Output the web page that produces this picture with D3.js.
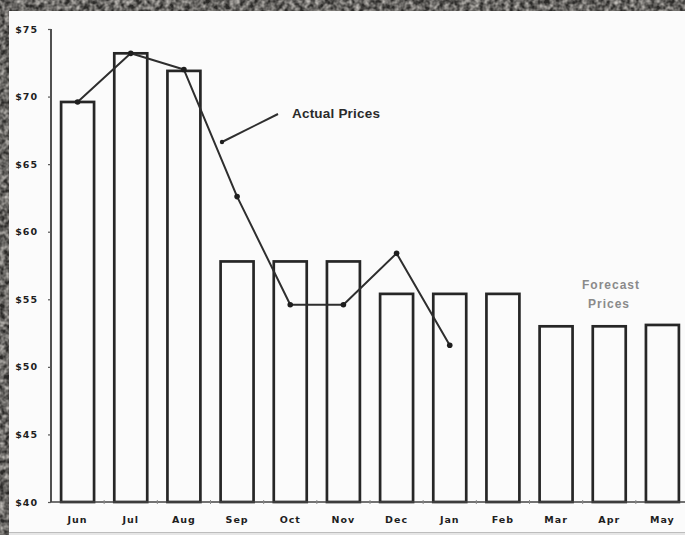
<!DOCTYPE html>
<html>
<head>
<meta charset="utf-8">
<script src="https://cdn.jsdelivr.net/npm/d3@7"></script>
<style>
  html, body { margin: 0; padding: 0; background: #ffffff; }
  svg { display: block; }
  text { font-family: "Liberation Sans", Arial, sans-serif; }
</style>
</head>
<body>
<svg id="chart" width="685" height="535"></svg>
<script>
// Monthly price data
const months = ["Jun", "Jul", "Aug", "Sep", "Oct", "Nov", "Dec", "Jan", "Feb", "Mar", "Apr", "May"];
const barPrices = [69.6, 73.2, 71.9, 57.8, 57.8, 57.8, 55.4, 55.4, 55.4, 53.0, 53.0, 53.1];
const actualMonths = ["Jun", "Jul", "Aug", "Sep", "Oct", "Nov", "Dec", "Jan"];
const actualPrices = [69.6, 73.2, 72.0, 62.6, 54.6, 54.6, 58.4, 51.6];
const yTicks = [40, 45, 50, 55, 60, 65, 70, 75];
const yTickLabels = ["$40", "$45", "$50", "$55", "$60", "$65", "$70", "$75"];

const W = 685, H = 535;
const svg = d3.select("#chart");
const defs = svg.append("defs");

// Mottled dark frame around the sheet
const grain = defs.append("filter").attr("id", "grain")
  .attr("x", 0).attr("y", 0).attr("width", "100%").attr("height", "100%");
grain.append("feTurbulence").attr("type", "fractalNoise")
  .attr("baseFrequency", 0.2).attr("numOctaves", 2).attr("seed", 7).attr("result", "noise");
grain.append("feColorMatrix").attr("in", "noise").attr("type", "matrix")
  .attr("values", "0 0 0 0 0.55  0 0 0 0 0.53  0 0 0 0 0.50  0 0 0 -1.6 1.2").attr("result", "speck");
grain.append("feComposite").attr("in", "speck").attr("in2", "SourceGraphic").attr("operator", "in");

svg.append("rect").attr("width", W).attr("height", H).attr("fill", "#2b2a28");
svg.append("rect").attr("width", W).attr("height", H).attr("fill", "#000").attr("filter", "url(#grain)");

// Paper sheet
svg.append("rect").attr("x", 9).attr("y", 11).attr("width", W - 9).attr("height", 521).attr("fill", "#fbfbfb");
svg.append("line").attr("x1", 9).attr("x2", W).attr("y1", 532.5).attr("y2", 532.5)
  .attr("stroke", "#bdbdbd").attr("stroke-width", 1);
svg.append("rect").attr("x", 9).attr("y", 533).attr("width", W - 9).attr("height", 2).attr("fill", "#e6e6e6");

// Scales
const x = d3.scaleBand().domain(months).range([51, 689]).paddingInner(0.38).paddingOuter(0.19);
const y = d3.scaleLinear().domain([40, 75]).range([502, 29]);

const ink = "#262626";

// Bars (outlined, unfilled)
svg.append("g").selectAll("rect").data(months).join("rect")
  .attr("x", d => x(d))
  .attr("y", (d, i) => y(barPrices[i]))
  .attr("width", x.bandwidth())
  .attr("height", (d, i) => y(40) - y(barPrices[i]))
  .attr("fill", "none")
  .attr("stroke", ink)
  .attr("stroke-width", 2.7);

// Y axis
const yAxis = d3.axisLeft(y).tickValues(yTicks)
  .tickFormat((d, i) => yTickLabels[i]).tickSize(3).tickPadding(10);
const gy = svg.append("g").attr("transform", "translate(51,0)").call(yAxis);
gy.select(".domain").attr("stroke", ink).attr("stroke-width", 1.6).attr("d", "M0," + y(75) + "V" + y(40));
gy.selectAll(".tick line").attr("stroke", "#555").attr("stroke-width", 1.2);
gy.selectAll(".tick text")
  .attr("fill", "#1e1e1e")
  .style("font-family", "'DejaVu Sans', sans-serif")
  .style("font-weight", "bold")
  .style("font-size", "9.5px")
  .style("letter-spacing", "1px");

// X axis with small marks between the bars
const boundaries = months.slice(1).map(m => x(m) - x.step() * x.paddingInner() / 2);
const xAxis = d3.axisBottom(x).tickSize(0).tickPadding(14);
const gx = svg.append("g").attr("transform", "translate(0," + y(40) + ")").call(xAxis);
gx.select(".domain").attr("stroke", "#444").attr("stroke-width", 1.4).attr("d", "M51,0H685");
gx.selectAll(".tick text")
  .attr("fill", "#1e1e1e")
  .style("font-family", "'DejaVu Sans', sans-serif")
  .style("font-weight", "bold")
  .style("font-size", "9.5px")
  .style("letter-spacing", "1px");
svg.append("g").selectAll("line").data(boundaries).join("line")
  .attr("x1", d => d).attr("x2", d => d)
  .attr("y1", y(40) - 2).attr("y2", y(40) + 2)
  .attr("stroke", "#888").attr("stroke-width", 1);

// Actual price line with point markers
const line = d3.line()
  .x((d, i) => x(actualMonths[i]) + x.bandwidth() / 2)
  .y(d => y(d));
svg.append("path").datum(actualPrices)
  .attr("d", line)
  .attr("fill", "none")
  .attr("stroke", "#2e2e2e")
  .attr("stroke-width", 2)
  .attr("stroke-linejoin", "round");
svg.append("g").selectAll("circle").data(actualPrices).join("circle")
  .attr("cx", (d, i) => x(actualMonths[i]) + x.bandwidth() / 2)
  .attr("cy", d => y(d))
  .attr("r", 2.8)
  .attr("fill", "#1e1e1e");

// "Actual Prices" callout
svg.append("line").attr("x1", 222).attr("y1", 142).attr("x2", 278).attr("y2", 114)
  .attr("stroke", "#2e2e2e").attr("stroke-width", 2);
svg.append("circle").attr("cx", 222).attr("cy", 142).attr("r", 2.2).attr("fill", "#1e1e1e");
svg.append("text").attr("x", 292).attr("y", 118)
  .attr("fill", "#2a2a2a")
  .style("font-size", "13.5px").style("font-weight", "bold").style("letter-spacing", "0.2px")
  .text("Actual Prices");

// "Forecast Prices" label
const fc = svg.append("text").attr("text-anchor", "middle")
  .attr("fill", "#8a8a8a")
  .style("font-size", "12px").style("font-weight", "bold").style("letter-spacing", "1px");
fc.append("tspan").attr("x", 611).attr("y", 289).text("Forecast");
fc.append("tspan").attr("x", 609).attr("y", 308).text("Prices");
</script>
</body>
</html>
